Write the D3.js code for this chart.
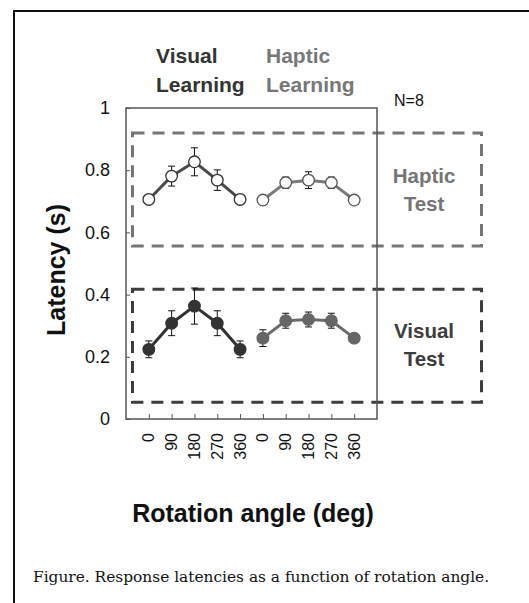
<html>
  <head>
    <meta charset="utf-8">
    <title>Latency vs rotation angle</title>
    <style>
      body { margin:0; background:#fff; }
    </style>
  </head>
  <body>
    <script src="https://cdn.jsdelivr.net/npm/d3@7"></script>
    <script>
      // data
      var angles = ["0","90","180","270","360"];
      var groups = ["Visual Learning","Haptic Learning"];
      var yTicks = [0,0.2,0.4,0.6,0.8,1];
      // haptic test (open circles)
      var hapticTestVis = [0.706,0.781,0.827,0.768,0.706];
      var hapticTestVisErr = [0.01,0.032,0.045,0.033,0.01];
      var hapticTestHap = [0.704,0.760,0.768,0.760,0.704];
      var hapticTestHapErr = [0,0.018,0.027,0.018,0];
      // visual test (filled circles)
      var visualTestVis = [0.224,0.308,0.363,0.308,0.224];
      var visualTestVisErr = [0.027,0.04,0.058,0.04,0.027];
      var visualTestHap = [0.260,0.316,0.320,0.316,0.260];
      var visualTestHapErr = [0.027,0.024,0.024,0.024,0];
      // dashed test boxes (y range)
      var boxes = [
        {name:["Haptic","Test"], lo:0.556, hi:0.92, color:"#757575", shift:-6.5},
        {name:["Visual","Test"], lo:0.054, hi:0.417, color:"#3d3d3d", shift:-7.5}
      ];

      var width=529, height=603;
      var sans="Liberation Sans, Arial, sans-serif";
      var svg = d3.select("body").append("svg")
                  .attr("width",width).attr("height",height)
                  .attr("font-family",sans);

      // outer frame (only top and left visible)
      svg.append("rect").attr("x",14).attr("y",11)
         .attr("width",width).attr("height",height)
         .attr("fill","none").attr("stroke","#111").attr("stroke-width",2);

      var pLeft=126, pRight=377, pTop=108, pBottom=419;
      var y = d3.scaleLinear().domain([0,1]).range([pBottom,pTop]);
      var x = d3.scaleLinear().domain([0,11]).range([pLeft,pRight]);

      // dashed boxes drawn first
      boxes.forEach(function(b){
        svg.append("rect")
           .attr("x",132.5).attr("y",y(b.hi))
           .attr("width",481.5-132.5).attr("height",y(b.lo)-y(b.hi))
           .attr("fill","none").attr("stroke",b.color)
           .attr("stroke-width",3).attr("stroke-dasharray","12,8");
        svg.append("text")
           .attr("y",(y(b.hi)+y(b.lo))/2+b.shift)
           .attr("text-anchor","middle").attr("font-weight","bold")
           .attr("font-size",20.5).attr("fill",b.color)
           .selectAll("tspan").data(b.name).enter().append("tspan")
           .attr("x",424).attr("dy",(d,i)=>i==0?0:28)
           .text(d=>d);
      });

      // plot box
      svg.append("rect").attr("x",pLeft).attr("y",pTop)
         .attr("width",pRight-pLeft).attr("height",pBottom-pTop)
         .attr("fill","none").attr("stroke","#555").attr("stroke-width",1.5);

      // y axis
      var yAxis = svg.append("g").attr("transform","translate("+pLeft+",0)")
         .call(d3.axisRight(y).tickValues(yTicks).tickSize(4)
               .tickFormat(d=>d==0||d==1?d3.format("d")(d):d3.format(".1f")(d)));
      yAxis.select(".domain").remove();
      yAxis.selectAll("line").attr("stroke","#555");
      yAxis.selectAll("text").attr("x",-16).attr("text-anchor","end")
           .attr("font-size",18).attr("fill","#111").attr("font-family",sans);

      // x axis
      var pos = d3.range(10);
      var xAxis = svg.append("g").attr("transform","translate(0,"+pBottom+")")
         .call(d3.axisTop(x).tickValues(pos.map(i=>i+1)).tickSize(5).tickFormat(""));
      xAxis.select(".domain").remove();
      xAxis.selectAll("line").attr("stroke","#555");
      svg.selectAll(".xlab").data(pos).enter().append("text")
         .attr("class","xlab")
         .attr("transform",i=>"translate("+(x(i+1)+5.5)+",433) rotate(-90)")
         .attr("text-anchor","end").attr("font-size",16).attr("fill","#111")
         .text(i=>angles[i%5]);

      // series
      var series = [
        {v:hapticTestVis, e:hapticTestVisErr, off:1, line:"#4a4a4a", fill:"#fff", stroke:"#333"},
        {v:hapticTestHap, e:hapticTestHapErr, off:6, line:"#7a7a7a", fill:"#fff", stroke:"#555"},
        {v:visualTestVis, e:visualTestVisErr, off:1, line:"#333", fill:"#333", stroke:"#333"},
        {v:visualTestHap, e:visualTestHapErr, off:6, line:"#6b6b6b", fill:"#666", stroke:"#666"}
      ];
      series.forEach(function(s){
        var g = svg.append("g");
        g.append("path")
         .datum(s.v)
         .attr("d",d3.line().x((d,i)=>x(i+s.off)).y(d=>y(d)))
         .attr("fill","none").attr("stroke",s.line).attr("stroke-width",3);
        g.selectAll(".err").data(d3.range(5).filter(i=>s.e[i]>0)).enter()
         .append("path")
         .attr("d",function(i){
            var cx=x(i+s.off), y1=y(s.v[i]+s.e[i]), y2=y(s.v[i]-s.e[i]);
            return "M"+cx+","+y1+"V"+y2+"M"+(cx-3.5)+","+y1+"H"+(cx+3.5)
                  +"M"+(cx-3.5)+","+y2+"H"+(cx+3.5);
         })
         .attr("stroke","#111").attr("stroke-width",1).attr("fill","none");
        g.selectAll("circle").data(s.v).enter().append("circle")
         .attr("cx",(d,i)=>x(i+s.off)).attr("cy",d=>y(d)).attr("r",5.8)
         .attr("fill",s.fill).attr("stroke",s.stroke).attr("stroke-width",1.3);
      });

      // group headings
      var heads = [{t:["Visual","Learning"], x:156, c:"#333"},
                   {t:["Haptic","Learning"], x:266, c:"#777"}];
      heads.forEach(function(h){
        svg.append("text").attr("font-weight","bold").attr("font-size",21)
           .attr("fill",h.c)
           .selectAll("tspan").data(h.t).enter().append("tspan")
           .attr("x",h.x).attr("y",(d,i)=>i==0?63:92).text(d=>d);
      });
      svg.append("text").attr("x",394).attr("y",106).attr("font-size",16)
         .attr("fill","#111").text("N=8");

      // axis titles
      svg.append("text").attr("transform","translate(65,270) rotate(-90)")
         .attr("text-anchor","middle").attr("font-weight","bold").attr("font-size",25)
         .attr("fill","#111").text("Latency (s)");
      svg.append("text").attr("x",253).attr("y",522)
         .attr("text-anchor","middle").attr("font-weight","bold").attr("font-size",25)
         .attr("fill","#111").text("Rotation angle (deg)");

      // caption
      svg.append("text").attr("x",33).attr("y",582)
         .attr("font-family","DejaVu Serif, serif").attr("font-size",15.4)
         .attr("fill","#111").text("Figure. Response latencies as a function of rotation angle.");
    </script>
  </body>
</html>
